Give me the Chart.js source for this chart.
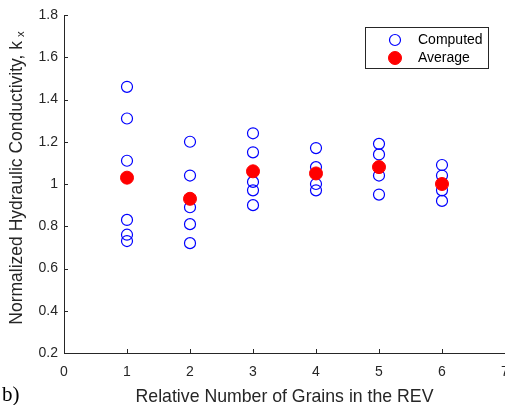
<!DOCTYPE html>
<html>
<head>
<meta charset="utf-8">
<script src="https://cdn.jsdelivr.net/npm/chart.js@4/dist/chart.umd.min.js"></script>
<style>
  body { margin: 0; background: #fff; }
  canvas { display: block; }
</style>
</head>
<body>
<canvas id="kxChart" width="505" height="405"></canvas>
<script>
// data
const grainCounts = [1, 2, 3, 4, 5, 6];
const computedByGroup = [
    [1.46, 1.31, 1.11, 0.83, 0.76, 0.73],
    [1.20, 1.04, 0.89, 0.81, 0.72],
    [1.24, 1.15, 1.01, 0.97, 0.90],
    [1.17, 1.08, 1.00, 0.97],
    [1.19, 1.14, 1.04, 0.95],
    [1.09, 1.04, 0.97, 0.92]
];
const averageValues = [1.03, 0.93, 1.06, 1.05, 1.08, 1.00];
const xTicks = [0, 1, 2, 3, 4, 5, 6, 7];
const yTicks = [0.2, 0.4, 0.6, 0.8, 1, 1.2, 1.4, 1.6, 1.8];
const xTitle = 'Relative Number of Grains in the REV';
const yTitle = 'Normalized Hydraulic Conductivity, k';
const yTitleSub = 'x';
const panelLabel = 'b)';

const axisColor = '#262626';
const fontFamily = '"Liberation Sans", Arial, sans-serif';

// flatten the groups into scatter points
const computedPoints = [];
computedByGroup.forEach((vals, i) => {
    vals.forEach(v => computedPoints.push({ x: grainCounts[i], y: v }));
});
const averagePoints = grainCounts.map((g, i) => ({ x: g, y: averageValues[i] }));

// MATLAB style inward ticks, axis titles, boxed legend and panel letter
const extrasPlugin = {
    id: 'extras',
    afterDraw(chart) {
        const ctx = chart.ctx;
        const xs = chart.scales.x;
        const ys = chart.scales.y;
        const area = chart.chartArea;

        ctx.save();
        ctx.strokeStyle = axisColor;
        ctx.lineWidth = 1;
        ctx.beginPath();
        xTicks.forEach(v => {
            const px = Math.round(xs.getPixelForValue(v)) + 0.5;
            ctx.moveTo(px, area.bottom);
            ctx.lineTo(px, area.bottom - 4);
        });
        yTicks.forEach(v => {
            const py = Math.round(ys.getPixelForValue(v)) + 0.5;
            ctx.moveTo(area.left, py);
            ctx.lineTo(area.left + 4, py);
        });
        ctx.stroke();

        // x title
        ctx.fillStyle = axisColor;
        ctx.font = '17.7px ' + fontFamily;
        ctx.textAlign = 'center';
        ctx.textBaseline = 'alphabetic';
        ctx.fillText(xTitle, (area.left + area.right) / 2, 402);

        // y title with subscript
        ctx.save();
        ctx.translate(22, 178);
        ctx.rotate(-Math.PI / 2);
        ctx.font = '17.5px ' + fontFamily;
        const mainW = ctx.measureText(yTitle).width;
        ctx.font = '11.5px ' + fontFamily;
        const subW = ctx.measureText(yTitleSub).width;
        const total = mainW + 4 + subW;
        ctx.textAlign = 'left';
        ctx.font = '17.5px ' + fontFamily;
        ctx.fillText(yTitle, -total / 2, 0);
        ctx.font = '11.5px ' + fontFamily;
        ctx.fillText(yTitleSub, -total / 2 + mainW + 4, 2);
        ctx.restore();

        // legend
        const lx = 365, ly = 27, lw = 123, lh = 41;
        ctx.fillStyle = '#fff';
        ctx.fillRect(lx, ly, lw, lh);
        ctx.strokeStyle = axisColor;
        ctx.strokeRect(lx + 0.5, ly + 0.5, lw, lh);

        [0, 1].forEach((idx, row) => {
            const ds = chart.data.datasets[idx];
            const cy = ly + 13 + row * 18;
            ctx.beginPath();
            ctx.arc(lx + 30, cy, ds.pointRadius, 0, Math.PI * 2);
            if (ds.backgroundColor !== 'transparent') {
                ctx.fillStyle = ds.backgroundColor;
                ctx.fill();
            }
            ctx.lineWidth = ds.borderWidth;
            ctx.strokeStyle = ds.borderColor;
            ctx.stroke();

            ctx.fillStyle = '#000';
            ctx.font = '14px ' + fontFamily;
            ctx.textBaseline = 'middle';
            ctx.textAlign = 'left';
            ctx.fillText(ds.label, lx + 53, cy);
        });

        ctx.fillStyle = '#000';
        ctx.font = '21px "Liberation Serif", "Times New Roman", serif';
        ctx.textBaseline = 'alphabetic';
        ctx.textAlign = 'left';
        ctx.fillText(panelLabel, 2, 401);
        ctx.restore();
    }
};

const chart = new Chart(document.getElementById('kxChart').getContext('2d'), {
    type: 'scatter',
    data: {
        datasets: [{
            label: 'Computed',
            data: computedPoints,
            pointRadius: 5.5,
            pointHoverRadius: 5.5,
            borderWidth: 1.2,
            borderColor: '#0000ff',
            backgroundColor: 'transparent',
            order: 2
        }, {
            label: 'Average',
            data: averagePoints,
            pointRadius: 6.5,
            pointHoverRadius: 6.5,
            borderWidth: 1,
            borderColor: '#ff0000',
            backgroundColor: '#ff0000',
            order: 1
        }]
    },
    options: {
        responsive: false,
        animation: false,
        layout: { autoPadding: false, padding: { top: 15, right: 0, left: 0, bottom: 0 } },
        plugins: {
            legend: { display: false },
            tooltip: { enabled: false }
        },
        scales: {
            x: {
                type: 'linear',
                min: 0,
                max: 7,
                afterBuildTicks: scale => { scale.ticks = xTicks.map(v => ({ value: v })); },
                afterFit: scale => {
                    scale.height = 52;
                    scale.paddingLeft = 0;
                    scale.paddingRight = 0;
                },
                grid: { display: false, drawTicks: false },
                border: { display: true, color: axisColor, width: 1 },
                ticks: {
                    padding: 11,
                    color: axisColor,
                    font: { family: fontFamily, size: 14 }
                }
            },
            y: {
                type: 'linear',
                min: 0.2,
                max: 1.8,
                afterBuildTicks: scale => { scale.ticks = yTicks.map(v => ({ value: v })); },
                afterFit: scale => {
                    scale.width = 64;
                    scale.paddingTop = 0;
                    scale.paddingBottom = 0;
                },
                grid: { display: false, drawTicks: false },
                border: { display: true, color: axisColor, width: 1 },
                ticks: {
                    padding: 6,
                    color: axisColor,
                    font: { family: fontFamily, size: 14 },
                    callback: v => String(Math.round(v * 10) / 10)
                }
            }
        }
    },
    plugins: [extrasPlugin]
});
</script>
</body>
</html>
